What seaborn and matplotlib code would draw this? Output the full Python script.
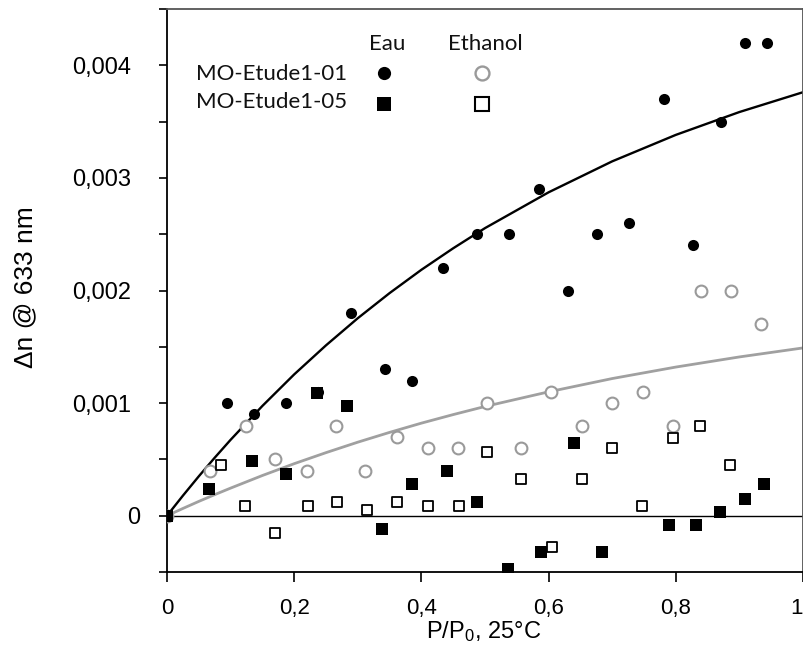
import matplotlib
matplotlib.use("Agg")
import matplotlib.pyplot as plt
import numpy as np
import pandas as pd
import seaborn as sns

# ---------------- data ----------------
eau01_x = [0.0, 0.094, 0.137, 0.187, 0.237, 0.289, 0.343, 0.385, 0.434, 0.487,
           0.538, 0.585, 0.630, 0.676, 0.726, 0.781, 0.827, 0.871, 0.909, 0.943]
eau01_y = [0.0, 0.0010, 0.0009, 0.0010, 0.0011, 0.0018, 0.0013, 0.0012, 0.0022, 0.0025,
           0.0025, 0.0029, 0.0020, 0.0025, 0.0026, 0.0037, 0.0024, 0.0035, 0.0042, 0.0042]

eth01_x = [0.0, 0.068, 0.124, 0.170, 0.220, 0.266, 0.311, 0.361, 0.410, 0.457, 0.503,
           0.556, 0.603, 0.652, 0.700, 0.749, 0.795, 0.840, 0.887, 0.934]
eth01_y = [0.0, 0.0004, 0.0008, 0.0005, 0.0004, 0.0008, 0.0004, 0.0007, 0.0006, 0.0006, 0.0010,
           0.0006, 0.0011, 0.0008, 0.0010, 0.0011, 0.0008, 0.0020, 0.0020, 0.0017]

eau05_x = [0.0, 0.066, 0.134, 0.187, 0.236, 0.283, 0.338, 0.385, 0.440, 0.487,
           0.536, 0.588, 0.640, 0.684, 0.789, 0.832, 0.870, 0.909, 0.939]
eau05_y = [0.0, 0.00024, 0.00049, 0.00037, 0.00109, 0.00097, -0.00012, 0.00028, 0.00040, 0.00012,
           -0.00047, -0.00032, 0.00065, -0.00032, -0.00008, -0.00008, 0.00003, 0.00015, 0.00028]

eth05_x = [0.0, 0.085, 0.123, 0.170, 0.222, 0.267, 0.314, 0.361, 0.411, 0.459, 0.503,
           0.556, 0.605, 0.652, 0.700, 0.747, 0.795, 0.838, 0.885]
eth05_y = [0.0, 0.00045, 0.00009, -0.00015, 0.00009, 0.00012, 0.00005, 0.00012, 0.00009, 0.00009, 0.00057,
           0.00033, -0.00028, 0.00033, 0.00060, 0.00009, 0.00069, 0.00080, 0.00045]

# fitted curves as drawn in the picture (sampled by eye)
curve_x = [0.0, 0.025, 0.05, 0.075, 0.1, 0.15, 0.2, 0.25, 0.3, 0.35, 0.4, 0.45,
           0.5, 0.6, 0.7, 0.8, 0.9, 1.0]
curve_eau_y = [0.0, 0.000178, 0.00035, 0.000515, 0.000674, 0.000975, 0.001255, 0.001513,
               0.001754, 0.001977, 0.002184, 0.002375, 0.002554,
               0.002872, 0.003147, 0.003382, 0.003585, 0.003761]
curve_eth_y = [0.0, 0.0000642, 0.000127, 0.000187, 0.000245, 0.000357, 0.000462, 0.00056,
               0.000653, 0.00074, 0.000822, 0.000898, 0.00097,
               0.0011, 0.001218, 0.00132, 0.00141, 0.00149]

x_ticks = [0.0, 0.2, 0.4, 0.6, 0.8, 1.0]
x_tick_labels = ["0", "0,2", "0,4", "0,6", "0,8", "1"]
y_ticks = [-0.0005, 0.0, 0.0005, 0.001, 0.0015, 0.002, 0.0025, 0.003, 0.0035, 0.004, 0.0045]
y_tick_labels = ["", "0", "", "0,001", "", "0,002", "", "0,003", "", "0,004", ""]

row_labels = ["MO-Etude1-01", "MO-Etude1-05"]
col_labels = ["Eau", "Ethanol"]

# ---------------- style ----------------
sns.set_theme(style="ticks")
plt.rcParams["font.family"] = ["Liberation Sans", "DejaVu Sans"]
plt.rcParams["mathtext.default"] = "regular"

GRAY = "#a0a0a0"
fig = plt.figure(figsize=(8.04, 6.55), dpi=100)
ax = fig.add_axes([167 / 804, 1 - 572 / 655, (803 - 167) / 804, (572 - 9) / 655])

# curves
sns.lineplot(x=curve_x, y=curve_eau_y, ax=ax, color="black", linewidth=1.7, zorder=2)
sns.lineplot(x=curve_x, y=curve_eth_y, ax=ax, color=GRAY, linewidth=2.0, zorder=2)

# zero line
ax.axhline(0, color="black", linewidth=1.0, zorder=1)

# points
sns.scatterplot(x=eth01_x, y=eth01_y, ax=ax, marker="o", s=72, facecolor="white",
                edgecolor="#9a9a9a", linewidth=1.5, zorder=3)
sns.scatterplot(x=eth05_x, y=eth05_y, ax=ax, marker="s", s=60, facecolor="white",
                edgecolor="black", linewidth=1.3, zorder=3)
sns.scatterplot(x=eau05_x, y=eau05_y, ax=ax, marker="s", s=72, color="black",
                edgecolor="black", linewidth=0, zorder=4)
sns.scatterplot(x=eau01_x, y=eau01_y, ax=ax, marker="o", s=64, color="black",
                edgecolor="black", linewidth=0, zorder=4)

ax.set_xlim(0, 1)
ax.set_ylim(-0.0005, 0.0045)
ax.set_xticks(x_ticks)
ax.set_xticklabels(x_tick_labels)
ax.set_yticks(y_ticks)
ax.set_yticklabels(y_tick_labels)
ax.tick_params(axis="x", direction="out", length=7, width=1.2, color="black",
               labelsize=16, pad=12, labelcolor="black")
ax.tick_params(axis="y", direction="out", length=6, width=1.2, color="black",
               labelsize=17, pad=20, labelcolor="black")

for sp in ["left", "bottom"]:
    ax.spines[sp].set_color("black")
    ax.spines[sp].set_linewidth(1.3)
for sp in ["top", "right"]:
    ax.spines[sp].set_color("#555555")
    ax.spines[sp].set_linewidth(1.3)

ax.set_xlabel("P/P$_0$, 25°C", fontsize=17, color="black", va="center", ha="center")
ax.xaxis.set_label_coords(484 / 804, 1 - 632 / 655, transform=fig.transFigure)
ax.set_ylabel("Δn @ 633 nm", fontsize=19, color="black", va="center", ha="center")
ax.yaxis.set_label_coords(25 / 804, 1 - 287 / 655, transform=fig.transFigure)

# the "0" y label sits a little to the right in the reference;
# the "1" x label is kept inside the figure
yt = ax.yaxis.get_major_ticks()
yt[y_tick_labels.index("0")].label1.set_x(9 / 636)
xt = ax.xaxis.get_major_ticks()
xt[x_tick_labels.index("1")].label1.set_horizontalalignment("right")

# ---------------- custom legend ----------------
def fx(px):
    return (px - 167) / (803 - 167)

def fy(py):
    return (572 - py) / (572 - 9)

leg_font = ["Lato", "DejaVu Sans"]
LFS = 16
ax.text(fx(387), fy(44), col_labels[0], transform=ax.transAxes, ha="center", va="center",
        fontsize=LFS, family=leg_font, color="#111111")
ax.text(fx(485), fy(44), col_labels[1], transform=ax.transAxes, ha="center", va="center",
        fontsize=LFS, family=leg_font, color="#111111")
ax.text(fx(196), fy(74), row_labels[0], transform=ax.transAxes, ha="left", va="center",
        fontsize=LFS, family=leg_font, color="#111111")
ax.text(fx(196), fy(102), row_labels[1], transform=ax.transAxes, ha="left", va="center",
        fontsize=LFS, family=leg_font, color="#111111")
ax.plot([fx(384)], [fy(73)], transform=ax.transAxes, marker="o", ms=9.5, color="black",
        mec="black", mew=0, ls="none", clip_on=False)
ax.plot([fx(482)], [fy(73)], transform=ax.transAxes, marker="o", ms=10, mfc="white",
        mec="#9a9a9a", mew=1.7, ls="none", clip_on=False)
ax.plot([fx(384)], [fy(104)], transform=ax.transAxes, marker="s", ms=9.5, color="black",
        mec="black", mew=0, ls="none", clip_on=False)
ax.plot([fx(482)], [fy(104)], transform=ax.transAxes, marker="s", ms=9.5, mfc="white",
        mec="black", mew=1.5, ls="none", clip_on=False)

fig.savefig("out.png", dpi=100)
